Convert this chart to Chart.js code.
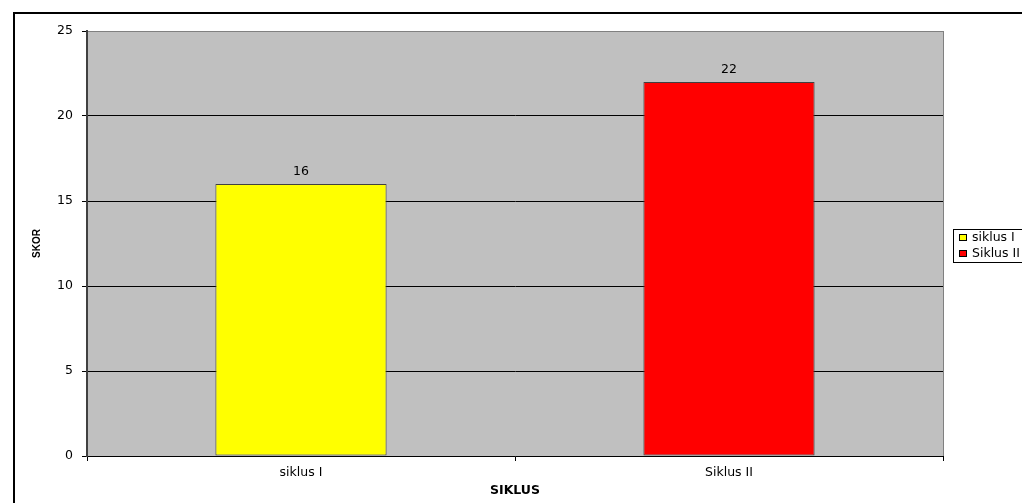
<!DOCTYPE html>
<html>
<head>
<meta charset="utf-8">
<script src="https://cdn.jsdelivr.net/npm/chart.js@4"></script>
<style>
  html, body { margin: 0; padding: 0; background: #fff; overflow: hidden; }
  #wrap { position: relative; width: 1022px; height: 503px; }
</style>
</head>
<body>
<div id="wrap"><canvas id="chart" width="1022" height="503"></canvas></div>
<script>
// data
const categories = ['siklus I', 'Siklus II'];
const skor = [16, 22];
const barColors = ['#FFFF00', '#FF0000'];
const yMax = 25;
const yStep = 5;
const xTitle = 'SIKLUS';
const yTitle = 'SKOR';

// the reference text is wide, so use the wider DejaVu face
const FONT = "'DejaVu Sans', sans-serif";
const TITLE_FONT = "'Liberation Sans', Arial, sans-serif";

// grey plot area + outer frame (like the Excel chart)
const backdrop = {
  id: 'backdrop',
  beforeDraw(chart) {
    const { ctx, chartArea: a } = chart;
    ctx.save();
    ctx.fillStyle = '#C0C0C0';
    ctx.fillRect(a.left, a.top, a.right - a.left, a.bottom - a.top);
    ctx.strokeStyle = '#808080';
    ctx.lineWidth = 1;
    ctx.strokeRect(a.left + 0.5, a.top + 0.5, a.right - a.left, a.bottom - a.top);
    // outer frame, cut off on the right and bottom
    ctx.strokeStyle = '#000';
    ctx.lineWidth = 2;
    ctx.beginPath();
    ctx.moveTo(14, 503);
    ctx.lineTo(14, 13);
    ctx.lineTo(1022, 13);
    ctx.stroke();
    ctx.restore();
  }
};

// value labels above bars
const valueLabels = {
  id: 'valueLabels',
  afterDatasetsDraw(chart) {
    const { ctx } = chart;
    const meta = chart.getDatasetMeta(0);
    ctx.save();
    ctx.font = '12.5px ' + FONT;
    ctx.fillStyle = '#000';
    ctx.textAlign = 'center';
    ctx.textBaseline = 'middle';
    meta.data.forEach((bar, i) => {
      ctx.fillText(String(chart.data.datasets[0].data[i]), bar.x, bar.y - 12);
    });
    ctx.restore();
  }
};

// boxed legend on the right, one entry per category
const boxLegend = {
  id: 'boxLegend',
  afterDraw(chart) {
    const { ctx } = chart;
    const x = 953, y = 229, rowH = 16;
    ctx.save();
    ctx.fillStyle = '#fff';
    ctx.fillRect(x, y, 90, 33);
    ctx.strokeStyle = '#000';
    ctx.lineWidth = 1;
    ctx.strokeRect(x + 0.5, y + 0.5, 90, 33);
    ctx.font = '12.5px ' + FONT;
    ctx.textBaseline = 'middle';
    chart.data.labels.forEach((label, i) => {
      const cy = y + 8 + i * rowH;
      ctx.fillStyle = chart.data.datasets[0].backgroundColor[i];
      ctx.fillRect(x + 6, cy - 3, 8, 7);
      ctx.strokeStyle = '#000';
      ctx.strokeRect(x + 6.5, cy - 2.5, 7, 6);
      ctx.fillStyle = '#000';
      ctx.fillText(label, x + 19, cy + 1);
    });
    ctx.restore();
  }
};

new Chart(document.getElementById('chart'), {
  type: 'bar',
  data: {
    labels: categories,
    datasets: [{
      label: yTitle,
      data: skor,
      backgroundColor: barColors,
      borderColor: '#404040',
      borderWidth: 1,
      borderSkipped: false,
      categoryPercentage: 1,
      barPercentage: 0.4
    }]
  },
  options: {
    responsive: false,
    animation: false,
    layout: { padding: { top: 31, right: 79, left: 0, bottom: 0 } },
    plugins: {
      legend: { display: false },
      tooltip: { enabled: false }
    },
    scales: {
      x: {
        grid: {
          offset: true,
          drawOnChartArea: false,
          drawTicks: true,
          tickLength: 5,
          color: '#000'
        },
        border: { color: '#000', width: 1 },
        ticks: {
          color: '#000',
          padding: 4,
          font: { family: FONT, size: 12.5 }
        },
        title: {
          display: true,
          text: xTitle,
          color: '#000',
          padding: { top: 0, bottom: 5 },
          font: { family: FONT, size: 12.5, weight: 'bold' }
        },
        afterFit(scale) { scale.height = 47; }
      },
      y: {
        min: 0,
        max: yMax,
        ticks: {
          stepSize: yStep,
          color: '#000',
          padding: 9,
          font: { family: FONT, size: 12.5 }
        },
        grid: {
          color: (c) => (c.tick && (c.tick.value === 0 || c.tick.value === yMax)) ? 'rgba(0,0,0,0)' : '#000',
          tickColor: '#000',
          tickLength: 5,
          drawTicks: true
        },
        border: { color: '#404040', width: 2 },
        title: {
          display: true,
          text: yTitle,
          color: '#000',
          padding: { top: 31, bottom: 0 },
          font: { family: TITLE_FONT, size: 10, weight: 'bold' }
        },
        afterFit(scale) { scale.width = 87; }
      }
    }
  },
  plugins: [backdrop, valueLabels, boxLegend]
});
</script>
</body>
</html>
